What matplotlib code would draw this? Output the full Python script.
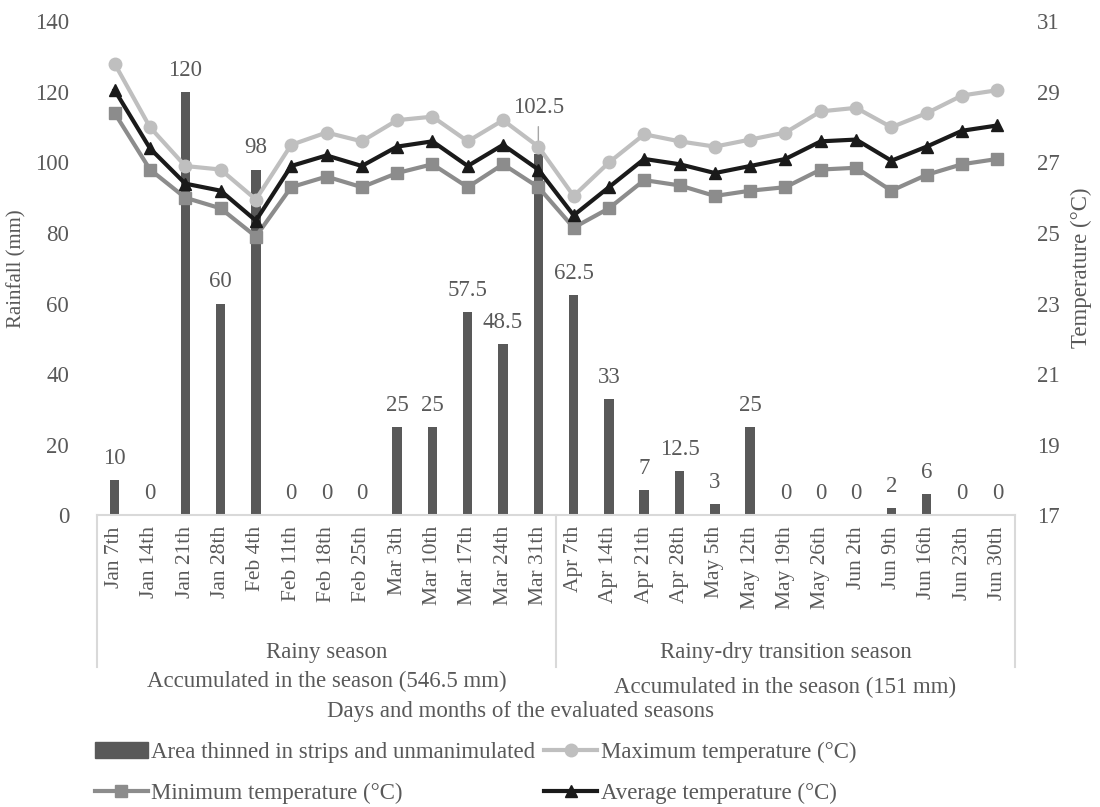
import numpy as np
import matplotlib.pyplot as plt
from matplotlib.patches import Patch
from matplotlib.lines import Line2D

plt.rcParams['font.family'] = ['Liberation Serif', 'DejaVu Serif']

# data
dates = ['Jan 7th', 'Jan 14th', 'Jan 21th', 'Jan 28th', 'Feb 4th', 'Feb 11th',
         'Feb 18th', 'Feb 25th', 'Mar 3th', 'Mar 10th', 'Mar 17th', 'Mar 24th',
         'Mar 31th', 'Apr 7th', 'Apr 14th', 'Apr 21th', 'Apr 28th', 'May 5th',
         'May 12th', 'May 19th', 'May 26th', 'Jun 2th', 'Jun 9th', 'Jun 16th',
         'Jun 23th', 'Jun 30th']
rain = [10, 0, 120, 60, 98, 0, 0, 0, 25, 25, 57.5, 48.5, 102.5,
        62.5, 33, 7, 12.5, 3, 25, 0, 0, 0, 2, 6, 0, 0]
t_max = [29.8, 28.0, 26.9, 26.8, 25.95, 27.5, 27.85, 27.6, 28.2, 28.3, 27.6, 28.2, 27.45,
         26.05, 27.0, 27.8, 27.6, 27.45, 27.65, 27.85, 28.45, 28.55, 28.0, 28.4, 28.9, 29.05]
t_min = [28.4, 26.8, 26.0, 25.7, 24.9, 26.3, 26.6, 26.3, 26.7, 26.95, 26.3, 26.95, 26.3,
         25.15, 25.7, 26.5, 26.35, 26.05, 26.2, 26.3, 26.8, 26.85, 26.2, 26.65, 26.95, 27.1]
t_avg = [29.05, 27.4, 26.4, 26.2, 25.35, 26.9, 27.2, 26.9, 27.45, 27.6, 26.9, 27.5, 26.8,
         25.5, 26.3, 27.1, 26.95, 26.7, 26.9, 27.1, 27.6, 27.65, 27.05, 27.45, 27.9, 28.05]
seasons = ['Rainy season', 'Rainy-dry transition season']
season_totals = ['Accumulated in the season (546.5 mm)', 'Accumulated in the season (151 mm)']

txt = '#595959'
fs = 16.5

fig = plt.figure(figsize=(11, 8.07), dpi=100)
ax = fig.add_axes([0.0882, 0.3618, 0.8345, 0.6116])
x = np.arange(len(dates))

bars = ax.bar(x, rain, width=0.27, color='#595959', zorder=2)
labels = ['' if v == 102.5 else ('%g' % v) for v in rain]
ax.bar_label(bars, labels=labels, padding=8, fontsize=fs, color=txt)
ax.annotate('102.5', xy=(12, 102.5), xytext=(12, 115.5), ha='center', va='center',
            fontsize=fs, color=txt,
            arrowprops=dict(arrowstyle='-', color='#a6a6a6', lw=1, shrinkA=4, shrinkB=0))

ax.set_ylim(0, 140)
ax.set_yticks(np.arange(0, 141, 20))
ax.set_xlim(-0.5, len(dates) - 0.5)
ax.set_xticks(x)
ax.set_xticklabels(dates, rotation=90, fontsize=15.5, color=txt)
ax.tick_params(axis='x', length=0, pad=8)
ax.tick_params(axis='y', length=0, pad=20, labelsize=fs, labelcolor=txt)
for s in ['top', 'left', 'right']:
    ax.spines[s].set_visible(False)
ax.spines['bottom'].set_color('#d9d9d9')
ax.spines['bottom'].set_linewidth(1.5)
ax.set_ylabel('Rainfall (mm)', fontsize=15, color=txt, labelpad=6)

ax2 = ax.twinx()
ax2.plot(x, t_max, color='#bfbfbf', lw=3, marker='o', ms=9)
ax2.plot(x, t_min, color='#8c8c8c', lw=3, marker='s', ms=8)
ax2.plot(x, t_avg, color='#1a1a1a', lw=3, marker='^', ms=9)
ax2.set_ylim(17, 31)
ax2.set_yticks(np.arange(17, 32, 2))
ax2.tick_params(axis='y', length=0, pad=16, labelsize=fs, labelcolor=txt)
for s in ['top', 'left', 'right', 'bottom']:
    ax2.spines[s].set_visible(False)
ax2.set_ylabel('Temperature (°C)', fontsize=16.5, color=txt, labelpad=8)

# category group dividers and season labels
tr = ax.get_xaxis_transform()
for xv in [-0.5, 12.5, 25.5]:
    ax.plot([xv, xv], [0, -0.308], transform=tr, color='#d9d9d9', lw=1.5, clip_on=False)
ax.text(6, -0.279, seasons[0], transform=tr, ha='center', va='center', fontsize=fs, color=txt)
ax.text(19, -0.279, seasons[1], transform=tr, ha='center', va='center', fontsize=fs, color=txt)
ax.text(6, -0.338, season_totals[0], transform=tr, ha='center', va='center', fontsize=fs, color=txt)
ax.text(19, -0.350, season_totals[1], transform=tr, ha='center', va='center', fontsize=fs, color=txt)
fig.text(0.473, 1 - 711 / 807, 'Days and months of the evaluated seasons',
         ha='center', va='center', fontsize=fs, color=txt)

handles = [Patch(color='#595959'),
           Line2D([], [], color='#8c8c8c', lw=3, marker='s', ms=8),
           Line2D([], [], color='#bfbfbf', lw=3, marker='o', ms=9),
           Line2D([], [], color='#1a1a1a', lw=3, marker='^', ms=9)]
names = ['Area thinned in strips and unmanimulated', 'Minimum temperature (°C)',
         'Maximum temperature (°C)', 'Average temperature (°C)']
leg = fig.legend(handles, names, ncol=2, loc='upper left',
                 bbox_to_anchor=(0.078, 1 - 733 / 807),
                 frameon=False, fontsize=fs, handlelength=2.3, handletextpad=0.15,
                 columnspacing=0.4, labelspacing=0.85, borderaxespad=0)
for t in leg.get_texts():
    t.set_color(txt)

fig.savefig('out.png', dpi=100)
